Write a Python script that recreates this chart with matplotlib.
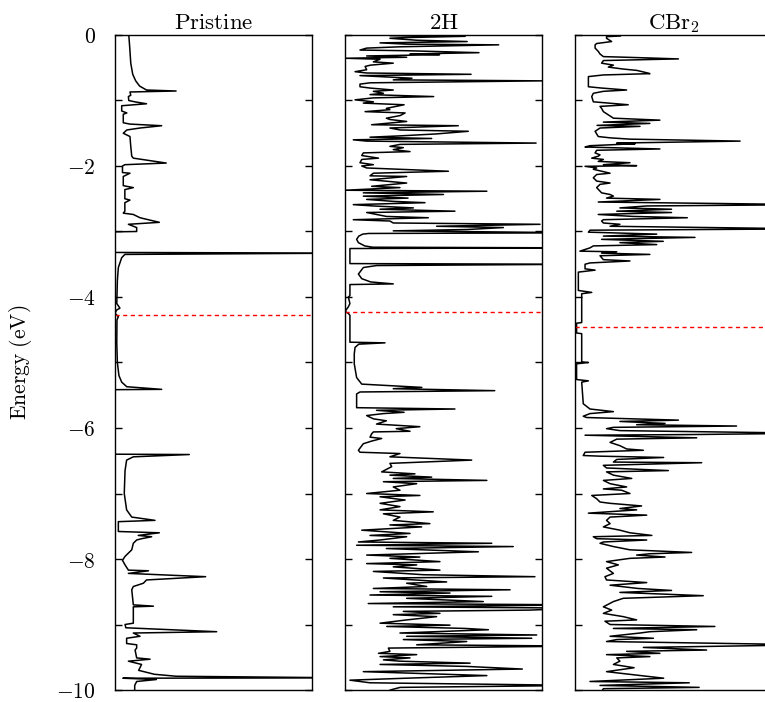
import matplotlib
matplotlib.use("Agg")
import matplotlib.pyplot as plt

plt.rcParams['mathtext.fontset'] = 'cm'
plt.rcParams['font.family'] = 'serif'
plt.rcParams['font.serif'] = ['DejaVu Serif']

# (energy eV, DOS in arbitrary units; axis spans 0..100, taller spikes are clipped)
pristine = [
    (0.00, 7), (-0.20, 7.5), (-0.43, 8), (-0.60, 9), (-0.70, 10.5), (-0.78, 12.5),
    (-0.84, 16), (-0.855, 31), (-0.87, 7.6), (-0.92, 8), (-0.94, 6.8), (-1.00, 7),
    (-1.02, 10), (-1.05, 16), (-1.08, 3.4), (-1.16, 3.4), (-1.19, 6), (-1.21, 4.2),
    (-1.34, 4.2), (-1.36, 7.6), (-1.385, 23.7), (-1.42, 12.7), (-1.45, 6), (-1.50, 4.2),
    (-1.55, 7.6), (-1.70, 8), (-1.85, 8.5), (-1.88, 9.3), (-1.955, 26), (-1.98, 5),
    (-2.00, 3.8), (-2.10, 3.8), (-2.11, 7.6), (-2.16, 4.2), (-2.30, 4.2), (-2.33, 9.3),
    (-2.36, 5), (-2.50, 5), (-2.52, 7.6), (-2.56, 5), (-2.69, 5), (-2.72, 4.2),
    (-2.74, 9.3), (-2.79, 12.7), (-2.86, 22.5), (-2.89, 6.8), (-2.94, 11), (-3.00, 11),
    (-3.005, 0), (-3.32, 0), (-3.33, 120), (-3.35, 5), (-3.40, 3.4), (-3.55, 1.7),
    (-3.75, 1.2), (-4.10, 0.9), (-4.17, 2.5), (-4.20, 0.8), (-4.25, 0), (-4.30, 1.7),
    (-4.35, 1.0), (-4.70, 0.9), (-5.00, 1.2), (-5.20, 2.0), (-5.30, 3.4), (-5.37, 6),
    (-5.41, 23.7), (-5.415, 0), (-6.40, 0), (-6.405, 37.7), (-6.44, 9.3), (-6.49, 5.9),
    (-6.65, 5.1), (-7.00, 4.7), (-7.25, 5.9), (-7.36, 8.5), (-7.41, 20.3), (-7.43, 1.7),
    (-7.58, 1.7), (-7.60, 22.5), (-7.64, 11.8), (-7.66, 18.6), (-7.69, 13.5), (-7.71, 11),
    (-7.76, 9.3), (-7.86, 8.5), (-7.96, 5.1), (-8.02, 3.8), (-8.09, 5.1), (-8.17, 6.8),
    (-8.18, 17), (-8.22, 6.8), (-8.27, 46), (-8.32, 16), (-8.37, 14.4), (-8.42, 9.3),
    (-8.47, 8.5), (-8.70, 9.3), (-8.72, 19.5), (-8.73, 9.3), (-8.98, 9.3), (-9.00, 5.1),
    (-9.05, 5.5), (-9.11, 51.6), (-9.13, 9.3), (-9.18, 12.7), (-9.21, 5.9), (-9.29, 5.9),
    (-9.31, 11), (-9.36, 11), (-9.39, 10.2), (-9.51, 11), (-9.53, 17.8), (-9.56, 6.8),
    (-9.61, 13.5), (-9.70, 12), (-9.76, 20), (-9.79, 31), (-9.815, 120), (-9.82, 4),
    (-9.84, 21), (-9.87, 11), (-9.93, 10), (-10.0, 10),
]

h2 = [
    (-0.01, 23), (-0.02, 61), (-0.04, 29.6), (-0.05, 22.8), (-0.08, 36.4), (-0.10, 62),
    (-0.12, 17.8), (-0.14, 31.3), (-0.15, 78), (-0.18, 28), (-0.20, 11), (-0.23, 7.6),
    (-0.24, 31.3), (-0.27, 68), (-0.29, 33), (-0.30, 48), (-0.32, 11), (-0.34, 31.3),
    (-0.355, 0), (-0.37, 17.8), (-0.41, 14.4), (-0.43, 24.5), (-0.46, 13), (-0.48, 10.2),
    (-0.53, 11), (-0.56, 5.1), (-0.58, 11), (-0.60, 64), (-0.62, 7.6), (-0.66, 34),
    (-0.685, 24.5), (-0.70, 100), (-0.73, 12.7), (-0.75, 7.6), (-0.79, 7.6), (-0.81, 12.7),
    (-0.84, 24.5), (-0.86, 14.4), (-0.89, 19.5), (-0.91, 12.7), (-0.94, 45), (-0.96, 14.4),
    (-0.99, 5.1), (-1.02, 14.4), (-1.04, 9.3), (-1.065, 30), (-1.12, 21), (-1.14, 22.8),
    (-1.17, 10.2), (-1.19, 30.5), (-1.23, 28), (-1.27, 21), (-1.29, 22.8), (-1.32, 31.3),
    (-1.37, 13.5), (-1.385, 57.5), (-1.42, 22.8), (-1.45, 28), (-1.47, 62.6), (-1.51, 46.5),
    (-1.54, 28), (-1.56, 12.7), (-1.58, 44), (-1.60, 4.2), (-1.62, 11), (-1.65, 97),
    (-1.67, 28), (-1.70, 22.8), (-1.72, 29.6), (-1.75, 24.5), (-1.78, 33), (-1.80, 9.3),
    (-1.84, 8.5), (-1.88, 17), (-1.90, 8.5), (-1.95, 7.6), (-1.98, 14.4), (-2.00, 8.5),
    (-2.03, 11), (-2.08, 52.5), (-2.11, 14.4), (-2.15, 12.7), (-2.16, 31.3), (-2.21, 12.7),
    (-2.26, 31.3), (-2.31, 13.5), (-2.33, 27.9), (-2.37, 0), (-2.385, 72), (-2.41, 9.3),
    (-2.435, 50), (-2.46, 9.3), (-2.49, 32), (-2.51, 11), (-2.54, 24.5), (-2.56, 40.6),
    (-2.59, 4.2), (-2.61, 14.4), (-2.64, 34.7), (-2.66, 17.8), (-2.69, 55.8), (-2.71, 11),
    (-2.77, 21), (-2.79, 42.3), (-2.82, 4.2), (-2.84, 22.8), (-2.87, 24.5), (-2.89, 99),
    (-2.92, 46.5), (-2.94, 80.4), (-2.97, 61.8), (-2.99, 24.5), (-3.02, 120), (-3.03, 12),
    (-3.04, 9), (-3.07, 7), (-3.12, 5.9), (-3.17, 6.8), (-3.22, 10), (-3.24, 14),
    (-3.25, 120), (-3.26, 2.5), (-3.49, 2.5), (-3.50, 120), (-3.52, 16), (-3.55, 9.3),
    (-3.65, 6.8), (-3.72, 8.5), (-3.77, 13), (-3.80, 24.5), (-3.81, 2.5), (-3.98, 2.5),
    (-4.00, 1.7), (-4.10, 2.5), (-4.15, 1.7), (-4.22, 0), (-4.25, 1.7), (-4.28, 2.5),
    (-4.69, 2.5), (-4.70, 20.3), (-4.72, 7), (-4.77, 5.1), (-4.87, 4.7), (-5.02, 4.7),
    (-5.23, 5.9), (-5.33, 8.5), (-5.38, 39), (-5.40, 24.5), (-5.43, 76), (-5.45, 7.6),
    (-5.48, 5.9), (-5.58, 5.9), (-5.69, 5.9), (-5.71, 55.8), (-5.73, 16), (-5.76, 30),
    (-5.78, 19.5), (-5.81, 11), (-5.86, 14.4), (-5.89, 21), (-5.94, 16), (-5.98, 38),
    (-6.01, 26), (-6.05, 33), (-6.06, 14.4), (-6.09, 13.5), (-6.14, 12.7), (-6.16, 18.6),
    (-6.20, 13.5), (-6.24, 9.3), (-6.34, 6.8), (-6.37, 7.6), (-6.39, 27.9), (-6.44, 22.8),
    (-6.49, 64.3), (-6.54, 22.8), (-6.59, 23.7), (-6.67, 18.6), (-6.70, 35.5), (-6.72, 22.8),
    (-6.75, 44), (-6.77, 24.5), (-6.80, 72), (-6.82, 19.5), (-6.85, 36.4), (-6.90, 24.5),
    (-6.95, 27.9), (-7.00, 11), (-7.03, 38), (-7.05, 17.8), (-7.10, 30.5), (-7.15, 17.8),
    (-7.20, 27.9), (-7.25, 17.8), (-7.28, 44.8), (-7.31, 19.5), (-7.36, 27.9), (-7.41, 24.5),
    (-7.46, 43.1), (-7.48, 22.8), (-7.51, 38.9), (-7.56, 8.5), (-7.61, 33), (-7.64, 12.7),
    (-7.66, 31.3), (-7.71, 17.8), (-7.74, 6.8), (-7.76, 74.5), (-7.79, 5.9), (-7.81, 85.4),
    (-7.84, 21), (-7.89, 67.7), (-7.91, 44.8), (-7.94, 11), (-7.97, 38), (-7.99, 22.8),
    (-8.04, 48.2), (-8.07, 11), (-8.09, 36.4), (-8.12, 24.5), (-8.17, 48.2), (-8.19, 14.4),
    (-8.24, 39.8), (-8.27, 96.4), (-8.29, 19.5), (-8.35, 51.6), (-8.37, 31.3), (-8.42, 41.5),
    (-8.45, 14.4), (-8.47, 83.8), (-8.50, 17.8), (-8.52, 53.3), (-8.55, 12.7), (-8.57, 74.5),
    (-8.60, 31.3), (-8.65, 70.2), (-8.68, 11.8), (-8.70, 120), (-8.73, 24.5), (-8.75, 120),
    (-8.78, 93.9), (-8.80, 29.6), (-8.83, 48.2), (-8.85, 24.5), (-8.88, 46.5), (-8.93, 31.3),
    (-8.98, 17.8), (-9.01, 53.3), (-9.03, 21.2), (-9.06, 60.9), (-9.08, 72.8), (-9.13, 27.9),
    (-9.16, 97.3), (-9.18, 31.3), (-9.21, 94.8), (-9.23, 29.6), (-9.26, 61.8), (-9.31, 36.4),
    (-9.33, 120), (-9.36, 22), (-9.41, 22.8), (-9.44, 17), (-9.46, 36.4), (-9.49, 17.8),
    (-9.51, 33), (-9.54, 19.5), (-9.56, 27.9), (-9.59, 63.5), (-9.61, 17.8), (-9.64, 61.8),
    (-9.68, 90), (-9.72, 9.3), (-9.78, 72), (-9.82, 31), (-9.85, 2.5), (-9.89, 12.7),
    (-9.93, 120), (-9.96, 28), (-10.0, 23),
]

cbr2 = [
    (-0.015, 23), (-0.025, 16), (-0.05, 16), (-0.10, 18.6), (-0.13, 11), (-0.15, 10.2),
    (-0.20, 10.2), (-0.25, 11.8), (-0.29, 12.7), (-0.33, 14.4), (-0.34, 26.2), (-0.365, 52.5),
    (-0.39, 14.4), (-0.43, 13.5), (-0.46, 19.5), (-0.49, 16.9), (-0.52, 24.5), (-0.54, 31.3),
    (-0.57, 35.5), (-0.59, 38), (-0.61, 14.4), (-0.635, 6.8), (-0.79, 6.8), (-0.81, 13.5),
    (-0.84, 26.2), (-0.86, 14.4), (-0.89, 9.3), (-0.94, 8.5), (-1.02, 9.3), (-1.065, 27),
    (-1.09, 12.7), (-1.12, 13.5), (-1.17, 14.4), (-1.22, 16.9), (-1.27, 19.5), (-1.30, 43.1),
    (-1.33, 14.4), (-1.35, 38), (-1.38, 11.2), (-1.395, 33), (-1.42, 12.7), (-1.47, 10.2),
    (-1.55, 11.8), (-1.57, 17.8), (-1.59, 27.9), (-1.62, 83.8), (-1.65, 21.2), (-1.66, 30.5),
    (-1.69, 7.6), (-1.71, 5.1), (-1.74, 43.1), (-1.76, 11), (-1.80, 10.2), (-1.83, 12.7),
    (-1.85, 11.8), (-1.88, 8.5), (-1.90, 14.4), (-1.93, 11.8), (-1.95, 27.9), (-1.98, 14.4),
    (-1.995, 31.3), (-2.005, 5.1), (-2.03, 11), (-2.05, 9.3), (-2.11, 17.8), (-2.13, 11),
    (-2.18, 9.3), (-2.23, 11), (-2.26, 17.8), (-2.28, 12.7), (-2.33, 11), (-2.41, 13.5),
    (-2.435, 17.8), (-2.46, 19.5), (-2.49, 16), (-2.51, 43.1), (-2.55, 11.8), (-2.59, 120),
    (-2.61, 36.4), (-2.64, 22.8), (-2.66, 49), (-2.69, 21.2), (-2.71, 49), (-2.74, 11.8),
    (-2.77, 29.6), (-2.79, 57), (-2.82, 14.4), (-2.84, 13.5), (-2.87, 14.4), (-2.89, 22.8),
    (-2.92, 17.8), (-2.96, 120), (-2.98, 7.6), (-3.01, 6.8), (-3.04, 41.5), (-3.07, 14.4),
    (-3.09, 60.9), (-3.12, 13.5), (-3.15, 44.8), (-3.17, 22.8), (-3.20, 41.5), (-3.22, 9.3),
    (-3.25, 7.6), (-3.30, 2.5), (-3.31, 21.2), (-3.33, 13.5), (-3.35, 38), (-3.37, 12.7),
    (-3.43, 14.4), (-3.45, 27.9), (-3.48, 7.6), (-3.50, 5.1), (-3.57, 5.1), (-3.59, 10.2),
    (-3.62, 1.7), (-3.90, 1.7), (-3.93, 8.5), (-3.95, 3.4), (-4.39, 3.4), (-4.40, 0.8),
    (-4.55, 0.8), (-4.56, 3.4), (-4.99, 3.4), (-5.00, 6.8), (-5.02, 0.8), (-5.26, 0.8),
    (-5.28, 6.8), (-5.30, 3.4), (-5.63, 4.2), (-5.71, 7.6), (-5.75, 19.5), (-5.78, 7.6),
    (-5.82, 4.2), (-5.84, 5.9), (-5.88, 52.5), (-5.90, 22.8), (-5.93, 45.7), (-5.95, 31.3),
    (-5.97, 82), (-5.99, 19.5), (-6.01, 16), (-6.04, 22.8), (-6.08, 120), (-6.10, 59.2),
    (-6.11, 5.1), (-6.15, 61.8), (-6.17, 21.2), (-6.22, 17.8), (-6.27, 22.8), (-6.32, 26.2),
    (-6.34, 34.7), (-6.37, 5.1), (-6.42, 4.2), (-6.43, 12.7), (-6.45, 45), (-6.48, 21.2),
    (-6.52, 19.5), (-6.53, 64.3), (-6.57, 14.4), (-6.61, 16), (-6.65, 47.4), (-6.67, 16),
    (-6.72, 19.5), (-6.77, 28.8), (-6.80, 14.4), (-6.85, 17.8), (-6.90, 26.2), (-6.93, 14.4),
    (-6.95, 23.7), (-7.00, 27.9), (-7.03, 8.5), (-7.08, 11), (-7.13, 12.7), (-7.15, 17.8),
    (-7.19, 33.8), (-7.23, 22.8), (-7.25, 31.3), (-7.30, 6.8), (-7.33, 36.4), (-7.36, 17.8),
    (-7.41, 16), (-7.46, 17.8), (-7.51, 14.4), (-7.56, 22.8), (-7.60, 27.9), (-7.64, 39),
    (-7.66, 9.3), (-7.69, 11), (-7.71, 36.4), (-7.74, 14.4), (-7.76, 12.7), (-7.81, 19.5),
    (-7.86, 27.9), (-7.90, 59.2), (-7.92, 38), (-7.94, 31.3), (-7.97, 45.7), (-7.99, 27.9),
    (-8.04, 16), (-8.09, 22), (-8.14, 16), (-8.22, 19.5), (-8.27, 15.2), (-8.32, 16),
    (-8.36, 36.4), (-8.40, 17.8), (-8.45, 32), (-8.48, 49), (-8.51, 22.8), (-8.56, 65.1),
    (-8.60, 24.5), (-8.65, 19.5), (-8.73, 14.4), (-8.78, 18.6), (-8.83, 14.4), (-8.88, 24.5),
    (-8.93, 31.3), (-8.95, 15.2), (-9.00, 17.8), (-9.03, 71), (-9.06, 19.5), (-9.08, 61.8),
    (-9.11, 38), (-9.13, 33), (-9.18, 17.8), (-9.21, 39.8), (-9.23, 21.2), (-9.26, 16),
    (-9.31, 120), (-9.35, 34.7), (-9.39, 66.8), (-9.41, 26.2), (-9.44, 43.1), (-9.46, 16),
    (-9.49, 38), (-9.51, 21.2), (-9.56, 22.8), (-9.61, 19.5), (-9.66, 30), (-9.72, 16),
    (-9.82, 45), (-9.87, 7.6), (-9.89, 58), (-9.93, 12.7), (-9.96, 63), (-9.98, 14.4),
    (-10.0, 14),
]

titles = [r'$\mathrm{Pristine}$', r'$\mathrm{2H}$', r'$\mathrm{CBr_2}$']
fermi = [-4.277, -4.226, -4.455]
yticks = list(range(-10, 1))
ylabels = ['$%d$' % t if t % 2 == 0 else '' for t in yticks]

fig = plt.figure(figsize=(7.65, 7.02), dpi=100)
W, H = 765.0, 702.0
lefts = [115, 345, 575]
width = 197
top, bottom = 35, 690

for i, data in enumerate([pristine, h2, cbr2]):
    ax = fig.add_axes([lefts[i] / W, (H - bottom) / H, width / W, (bottom - top) / H])
    e = [p[0] for p in data]
    d = [p[1] for p in data]
    ax.plot(d, e, color='black', lw=1.1)
    ax.axhline(fermi[i], color='red', lw=1.0, ls=(0, (3, 2.5)))
    ax.set_xlim(0, 100)
    ax.set_ylim(-10, 0)
    ax.set_xticks([])
    ax.set_yticks(yticks)
    ax.tick_params(axis='y', direction='in', left=True, right=True, length=5, width=1,
                   labelsize=15.5, pad=14)
    if i == 0:
        ax.set_yticklabels(ylabels)
        ax.set_ylabel(r'$\mathrm{Energy\ (eV)}$', fontsize=15.5)
        ax.yaxis.set_label_coords(-0.41, 0.5)
    else:
        ax.set_yticklabels([])
    ax.set_title(titles[i], fontsize=16.5, pad=4)
    for s in ax.spines.values():
        s.set_linewidth(1.0)

fig.savefig('out.png', dpi=100)
